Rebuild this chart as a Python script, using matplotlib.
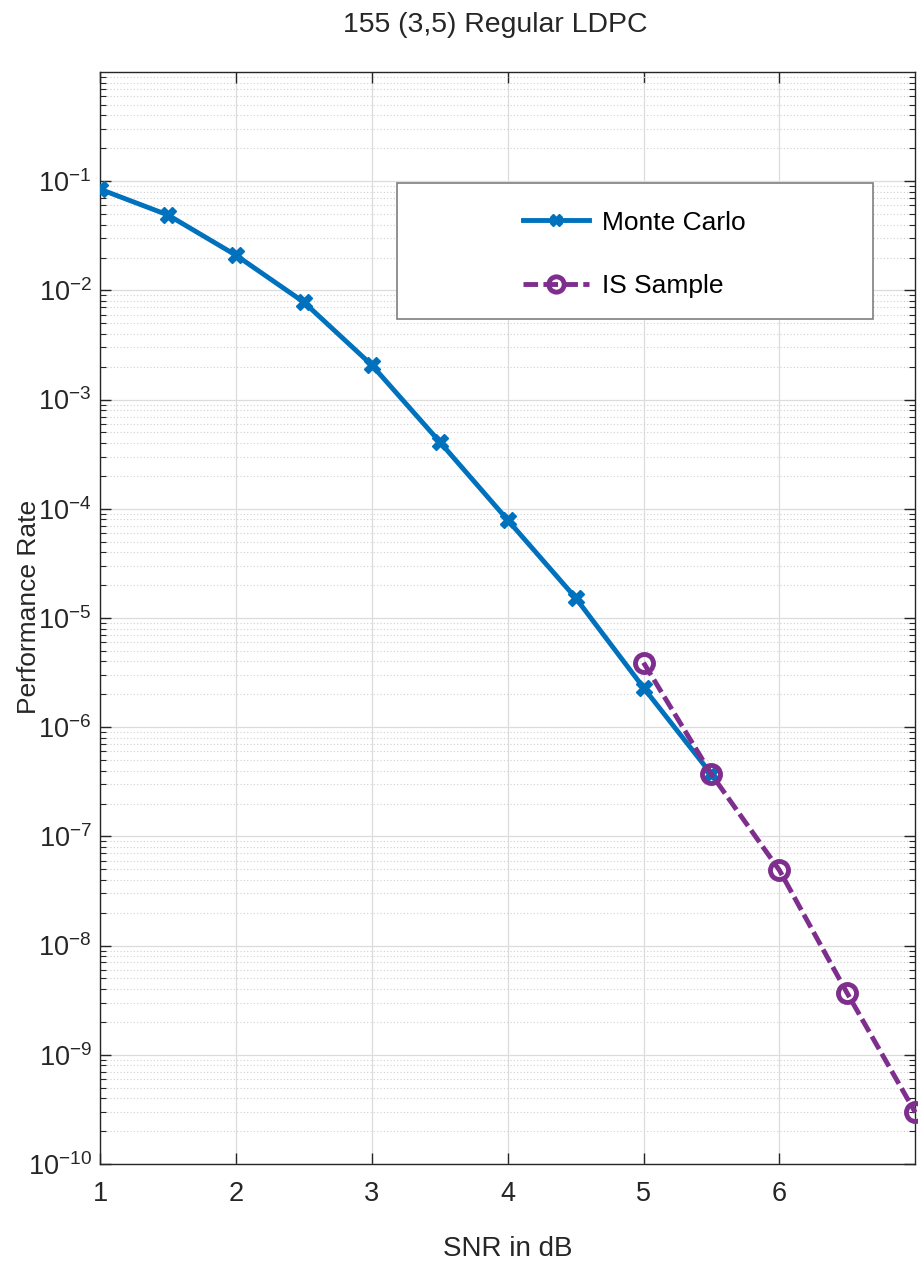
import numpy as np
import matplotlib
matplotlib.use('Agg')
import matplotlib.pyplot as plt
from matplotlib.patches import Rectangle
from matplotlib.ticker import LogLocator, FixedLocator, NullFormatter, FuncFormatter

plt.rcParams['font.family'] = ['Liberation Sans', 'DejaVu Sans']
plt.rcParams['mathtext.fontset'] = 'custom'
plt.rcParams['mathtext.rm'] = 'Liberation Sans'

# Simulation results
snr_mc = [1.0, 1.5, 2.0, 2.5, 3.0, 3.5, 4.0, 4.5, 5.0, 5.5]
rate_mc = [8.45e-2, 4.9e-2, 2.1e-2, 7.8e-3, 2.07e-3, 4.1e-4, 7.9e-5, 1.53e-5, 2.3e-6, 3.7e-7]

snr_is = [5.0, 5.5, 6.0, 6.5, 7.0]
rate_is = [3.9e-6, 3.7e-7, 4.9e-8, 3.65e-9, 2.97e-10]

xtick_vals = [1, 2, 3, 4, 5, 6]
ytick_exps = list(range(-10, 0))

blue = '#0072BD'
purple = '#7E2F8E'
txt = '#262626'

fig = plt.figure(figsize=(9.18, 12.63), dpi=100)
ax = fig.add_axes([0.109, 0.0784, 0.888, 0.8646])

ax.semilogy(snr_mc, rate_mc, color=blue, lw=3.5, marker='X', ms=11,
            mec=blue, mfc=blue, label='Monte Carlo', zorder=3)
ax.semilogy(snr_is, rate_is, color=purple, lw=3.5, ls=(0, (3, 1.1)), marker='o',
            ms=13, mec=purple, mfc='none', mew=3.5, label='IS Sample', zorder=4,
            clip_on=False)

ax.set_xlim(1, 7)
ax.set_ylim(1e-10, 1e0)
ax.xaxis.set_major_locator(FixedLocator(xtick_vals))
ax.set_yticks([10.0 ** k for k in ytick_exps])
ax.yaxis.set_major_formatter(FuncFormatter(
    lambda v, p: r'$\mathregular{10^{%d}}$' % round(np.log10(v))))
ax.yaxis.set_minor_locator(LogLocator(base=10, subs=np.arange(2, 10), numticks=20))
ax.yaxis.set_minor_formatter(NullFormatter())

ax.grid(True, which='major', color='#dcdcdc', lw=0.9)
ax.grid(True, which='minor', axis='y', color='#d0d0d0', lw=0.8, ls=(0, (1, 2)))
ax.set_axisbelow(True)

ax.tick_params(which='both', direction='in', top=True, right=True,
               labelsize=19.5, colors=txt)
ax.tick_params(axis='x', which='major', pad=12)
ax.tick_params(axis='y', which='major', pad=6)
ax.tick_params(which='major', length=8, width=1)
ax.tick_params(which='minor', length=4, width=0.8)
for sp in ax.spines.values():
    sp.set_color(txt)
    sp.set_linewidth(1)

ax.set_title('155 (3,5) Regular LDPC', fontsize=20.4, pad=29, color=txt, x=0.485)
ax.set_xlabel('SNR in dB', fontsize=20, labelpad=21, color=txt)
ax.set_ylabel('Performance Rate', fontsize=19, color=txt)
ax.yaxis.set_label_coords(-0.072, 0.5105)

# legend frame drawn separately so it can be wider than its contents
ax.add_patch(Rectangle((0.3644, 0.774), 0.5841, 0.1245, transform=ax.transAxes,
                       facecolor='white', edgecolor='#7f7f7f', lw=1.2, zorder=5))
leg = ax.legend(loc='center left', bbox_to_anchor=(0.519, 0.833), fontsize=19,
                handlelength=2.5, handletextpad=0.5, labelspacing=1.5,
                frameon=False, borderpad=0, borderaxespad=0, markerscale=0.85)
leg.set_zorder(6)

fig.savefig('out.png', dpi=100)
